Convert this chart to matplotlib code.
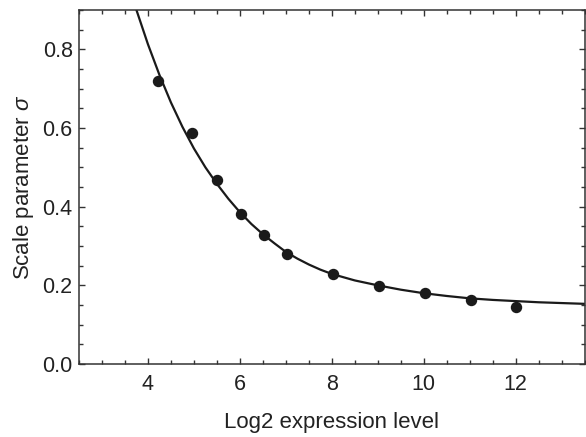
import matplotlib
matplotlib.use("Agg")
import matplotlib.pyplot as plt
from matplotlib.ticker import MultipleLocator

plt.rcParams['font.family'] = ['Liberation Sans', 'DejaVu Sans']
plt.rcParams['mathtext.fontset'] = 'custom'
plt.rcParams['mathtext.it'] = 'Liberation Sans:italic'
plt.rcParams['mathtext.rm'] = 'Liberation Sans'

# Measured data points
expr_level = [4.22, 4.96, 5.5, 6.03, 6.52, 7.03, 8.02, 9.02, 10.02, 11.03, 12.01]
sigma = [0.719, 0.587, 0.467, 0.382, 0.327, 0.280, 0.229, 0.199, 0.180, 0.163, 0.145]

# Fitted curve
fit_x = [3.75, 4.0, 4.25, 4.5, 4.75, 5.0, 5.25, 5.5, 5.75, 6.0, 6.25, 6.5, 6.75,
         7.0, 7.25, 7.5, 7.75, 8.0, 8.5, 9.0, 9.5, 10.0, 10.5, 11.0, 11.5, 12.0,
         12.5, 13.0, 13.5]
fit_y = [0.900, 0.813, 0.735, 0.665, 0.603, 0.548, 0.500, 0.458, 0.420, 0.386,
         0.356, 0.330, 0.307, 0.285, 0.268, 0.253, 0.240, 0.229, 0.2125, 0.200,
         0.189, 0.180, 0.173, 0.167, 0.163, 0.160, 0.157, 0.155, 0.153]

fig = plt.figure(figsize=(5.86, 4.37), dpi=100)
ax = fig.add_axes([0.1348, 0.167, 0.863, 0.810])

ax.plot(fit_x, fit_y, color='#1a1a1a', lw=1.6, solid_capstyle='round',
        solid_joinstyle='round', zorder=2)
ax.plot(expr_level, sigma, 'o', color='#1a1a1a', ms=7.2, zorder=3)

ax.set_xlim(2.5, 13.5)
ax.set_ylim(0, 0.9)
ax.xaxis.set_major_locator(MultipleLocator(2))
ax.xaxis.set_minor_locator(MultipleLocator(0.5))
ax.yaxis.set_major_locator(MultipleLocator(0.2))
ax.yaxis.set_minor_locator(MultipleLocator(0.05))
ax.set_xticks([4, 6, 8, 10, 12])

for s in ax.spines.values():
    s.set_linewidth(1.1)
    s.set_color('#333333')

ax.tick_params(which='both', direction='in', top=True, right=True, color='#333333',
               width=1.0, labelsize=15.5, labelcolor='#222222')
ax.tick_params(which='major', length=4)
ax.tick_params(which='minor', length=3)
ax.tick_params(axis='x', which='major', pad=7.5)
ax.tick_params(axis='y', which='major', pad=4.5)

ax.set_xlabel('Log2 expression level', fontsize=16, color='#222222', labelpad=12)
ax.set_ylabel(r'Scale parameter $\sigma$', fontsize=16, color='#222222', labelpad=5)

fig.savefig('out.png', dpi=100)
